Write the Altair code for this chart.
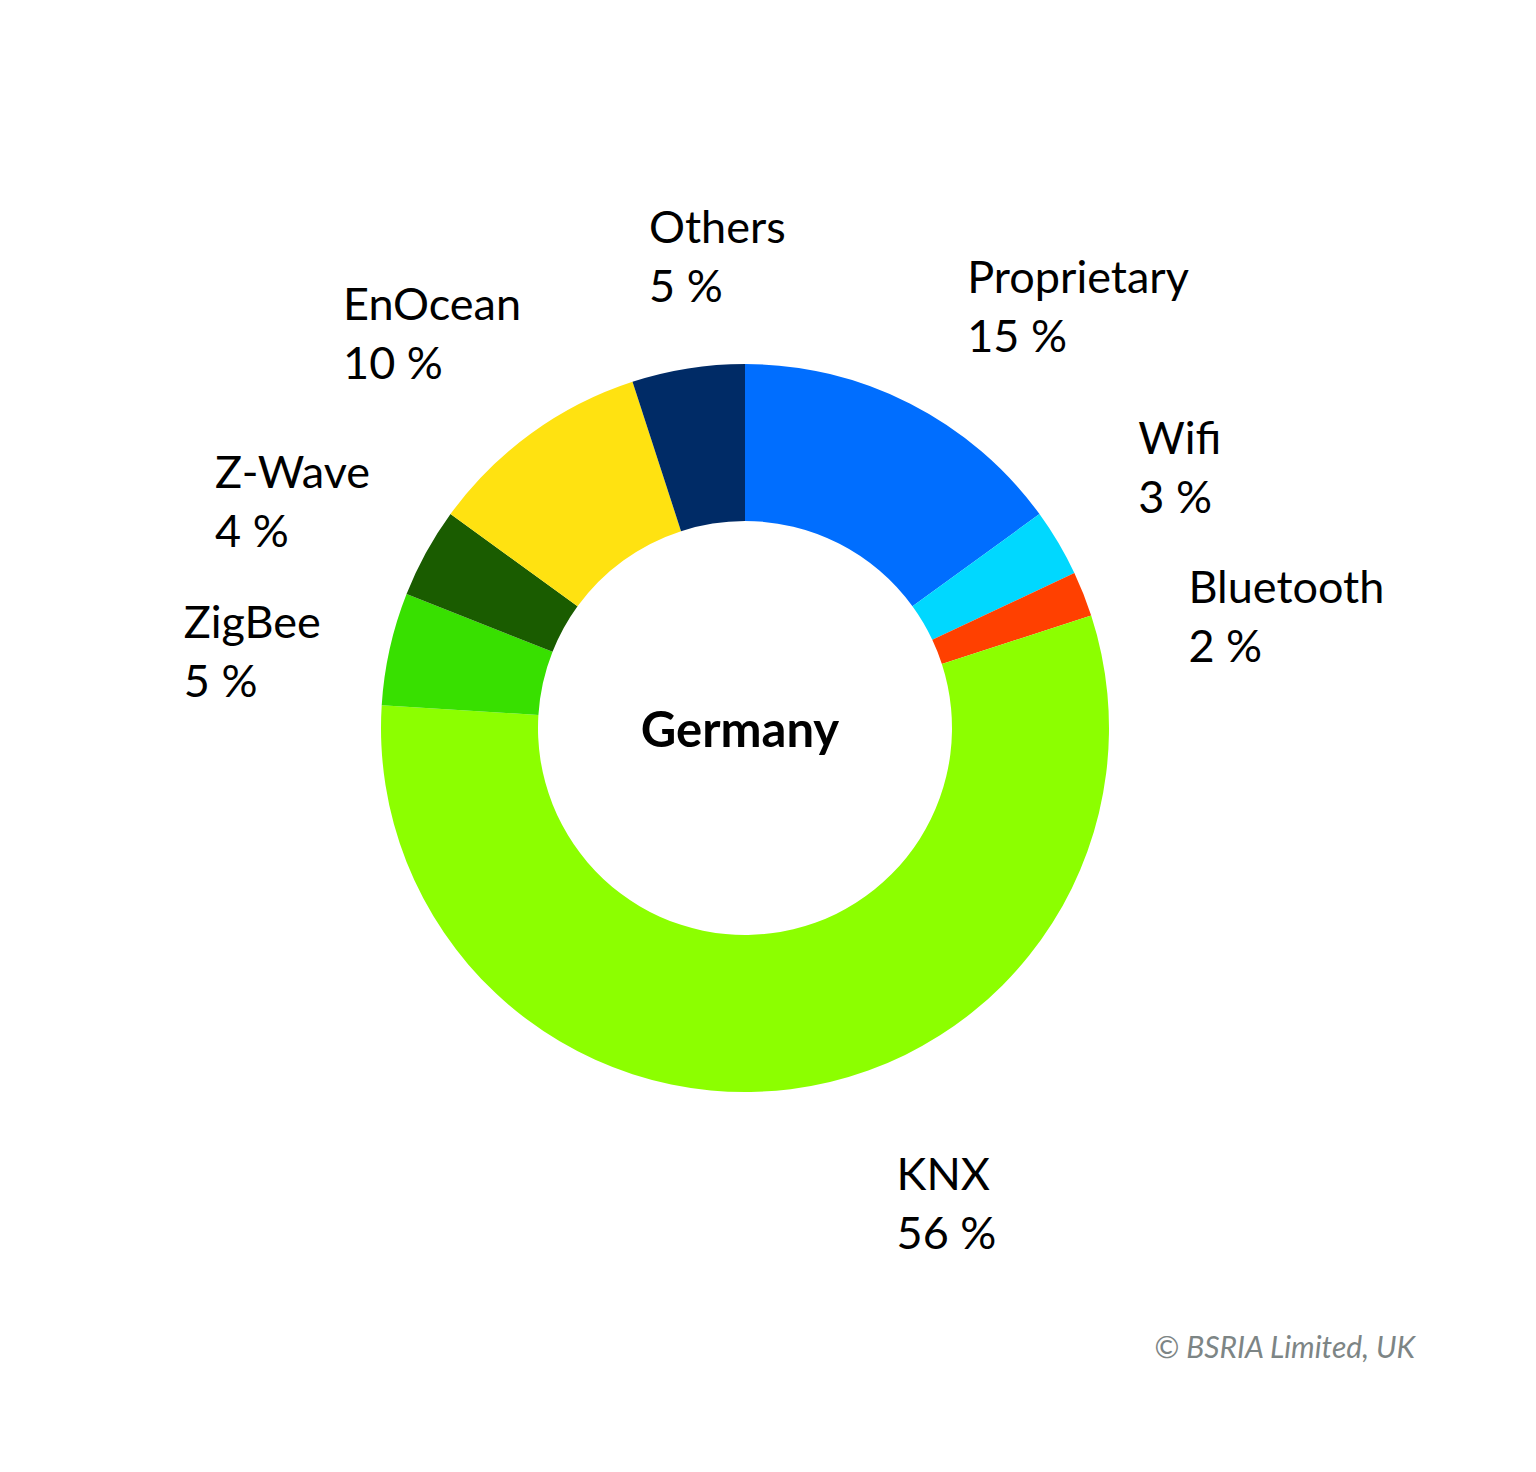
import altair as alt
import pandas as pd

# ---- data ----
categories = ["Proprietary", "Wifi", "Bluetooth", "KNX", "ZigBee", "Z-Wave", "EnOcean", "Others"]
shares = [15, 3, 2, 56, 5, 4, 10, 5]
colors = ["#006EFF", "#00D8FF", "#FF4000", "#8CFF00", "#38E000", "#1A5C00", "#FFE211", "#002B66"]
center_title = "Germany"
credit = "\u00a9 BSRIA Limited, UK"

# ---- layout (pixel offsets of each label from the outer edge at its slice's mid-angle) ----
label_dx = [57, 80, 105, 106, -206, -211, -188, -39]
label_dy = [-111, -89, 9, 101, -11, -65, -114, -125]

W, H = 1474, 1440
OUTER, INNER = 364, 207
FONT = "Lato"

df = pd.DataFrame({"category": categories, "share": shares, "order": list(range(len(categories)))})
df["label"] = df["category"] + "\n" + df["share"].astype(str) + " %"

theta_scale = alt.Scale(domain=[0, 100])
color_scale = alt.Scale(domain=categories, range=colors)

arcs = alt.Chart(df).mark_arc(outerRadius=OUTER, innerRadius=INNER, strokeWidth=0).encode(
    theta=alt.Theta("share:Q", stack=True, scale=theta_scale),
    color=alt.Color("category:N", scale=color_scale, legend=None),
    order=alt.Order("order:Q"),
)

label_base = alt.Chart(df).transform_window(
    cum="sum(share)", sort=[alt.SortField("order")], frame=[None, 0]
).transform_calculate(mid="datum.cum - datum.share / 2")

label_layers = []
for cat, dx, dy in zip(categories, label_dx, label_dy):
    label_layers.append(
        label_base.transform_filter(alt.datum.category == cat)
        .mark_text(
            radius=OUTER, align="left", baseline="alphabetic", dx=dx, dy=dy,
            font=FONT, fontSize=45, lineHeight=59, lineBreak="\n", color="#000000",
        )
        .encode(
            theta=alt.Theta("mid:Q", stack=False, scale=theta_scale),
            text="label:N",
        )
    )

title_text = alt.Chart(pd.DataFrame({"t": [center_title]})).mark_text(
    font=FONT, fontSize=49, fontWeight="bold", align="center", baseline="alphabetic",
    dx=-5, dy=19, color="#000000"
).encode(x=alt.value(W / 2), y=alt.value(H / 2), text="t:N")

credit_text = alt.Chart(pd.DataFrame({"t": [credit]})).mark_text(
    font=FONT, fontSize=30, fontStyle="italic", align="right", baseline="alphabetic", color="#7d8585"
).encode(x=alt.value(1407), y=alt.value(1350), text="t:N")

chart = alt.layer(arcs, *label_layers, title_text, credit_text).properties(
    width=W, height=H, padding=0, background="white",
    autosize=alt.AutoSizeParams(type="none"),
).configure_view(stroke=None)

chart.save("out.html", embed_options={"renderer": "svg", "actions": False})
